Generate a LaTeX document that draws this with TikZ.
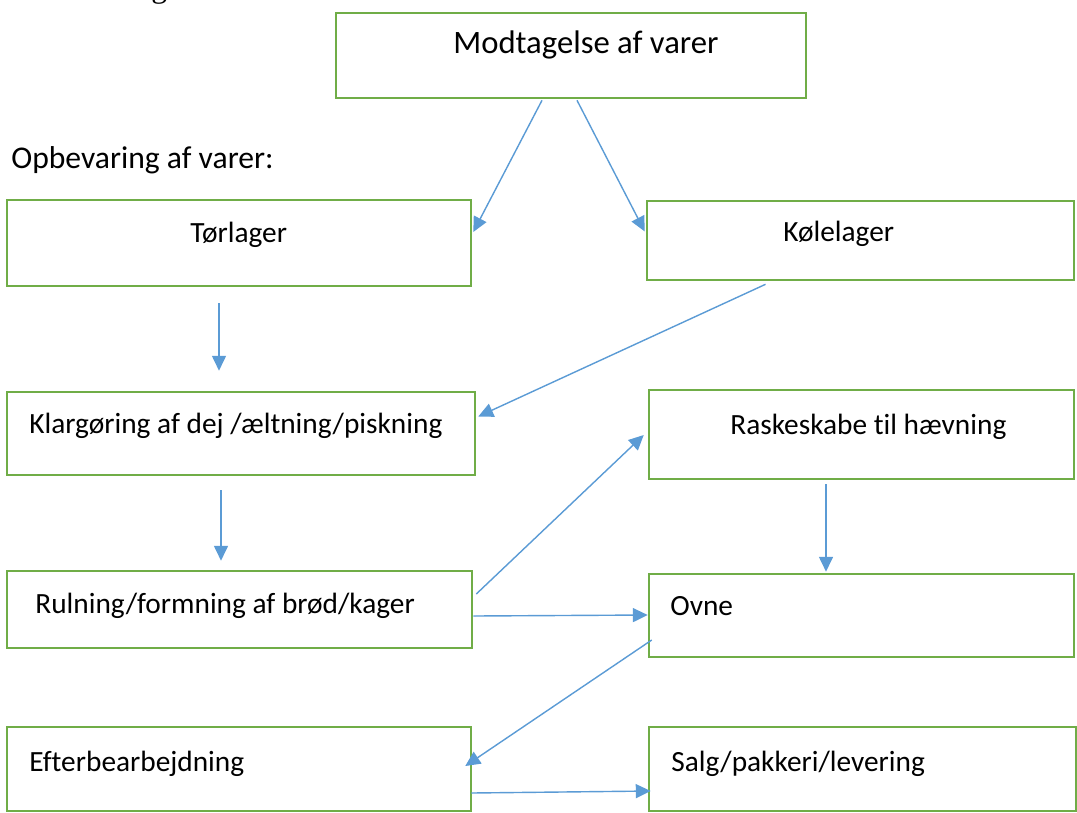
\documentclass[tikz,border=0pt]{standalone}
\usepackage{fontspec}
\setmainfont{Carlito}[Ligatures=NoCommon]
\newfontfamily\bodyserif{Liberation Serif}
\usetikzlibrary{arrows.meta,calc}

\definecolor{boxgreen}{HTML}{70AD47}
\definecolor{arrowblue}{HTML}{5B9BD5}

\begin{document}
\begin{tikzpicture}[x=0.02cm,y=-0.02cm,>={Triangle[length=8.5pt,width=8pt]},
    box/.style={draw=boxgreen,line width=1.5pt,rectangle,inner sep=0pt},
    lbl/.style={anchor=base west,inner sep=0pt,font=\fontsize{16.7}{20}\selectfont},
    flow/.style={->,draw=arrowblue,fill=arrowblue,line width=0.8pt}]
  \useasboundingbox (0,0) rectangle (1077,812);
  \clip (0,0) rectangle (1077,812);

  % cut-off line of the page above
  \node[anchor=base west,inner sep=0pt,font=\bodyserif\fontsize{18}{22}\selectfont] (page) at (151,-3) {g};

  % boxes
  \node[box,minimum width=9.40cm,minimum height=1.70cm] (modt) at (571,55.5) {};
  \node[box,minimum width=9.28cm,minimum height=1.72cm] (torl) at (239,243) {};
  \node[box,minimum width=8.54cm,minimum height=1.58cm] (kole) at (860.5,240.5) {};
  \node[box,minimum width=9.36cm,minimum height=1.66cm] (klar) at (241,433.5) {};
  \node[box,minimum width=8.50cm,minimum height=1.78cm] (rask) at (861.5,434.5) {};
  \node[box,minimum width=9.30cm,minimum height=1.54cm] (rul) at (239.5,609.5) {};
  \node[box,minimum width=8.50cm,minimum height=1.66cm] (ovne) at (861.5,615.5) {};
  \node[box,minimum width=9.28cm,minimum height=1.68cm] (efter) at (239,769) {};
  \node[box,minimum width=8.54cm,minimum height=1.68cm] (salg) at (862.5,769) {};

  % texts
  \node[lbl,font=\fontsize{18.6}{22}\selectfont] (modt-t) at (453,53) {Modtagelse af varer};
  \node[lbl,font=\fontsize{18}{22}\selectfont] (opbev) at (11,168) {Opbevaring af varer:};
  \node[lbl] (torl-t) at (190,242) {Tørlager};
  \node[lbl] (kole-t) at (783,241) {Kølelager};
  \node[lbl] (klar-t) at (29,433) {Klargøring af dej /æltning/piskning};
  \node[lbl] (rask-t) at (730,434) {Raskeskabe til hævning};
  \node[lbl] (rul-t) at (35,613) {Rulning/formning af brød/kager};
  \node[lbl] (ovne-t) at (670,615) {Ovne};
  \node[lbl] (efter-t) at (29,771) {Efterbearbejdning};
  \node[lbl] (salg-t) at (671,771) {Salg/pakkeri/levering};

  % arrows
  \draw[flow] ($(modt.south)+(-29,1)$) -- ($(torl.east)+(1,-11)$);
  \draw[flow] ($(modt.south)+(6,1)$) -- ($(kole.west)+(-1,-9)$);
  \draw[flow] ($(torl.south)+(-20,16)$) -- ($(klar.north)+(-22,-20)$);
  \draw[flow] ($(kole.south)+(-95,3)$) -- ($(klar.east)+(2,-17)$);
  \draw[flow] ($(klar.south)+(-20,14)$) -- ($(rul.north)+(-18.5,-9)$);
  \draw[flow] ($(rul.east)+(3,-15.5)$) -- ($(rask.west)+(-4,0.5)$);
  \draw[flow] ($(rul.east)+(0,6.5)$) -- ($(ovne.west)+(0,-0.5)$);
  \draw[flow] ($(rask.south)+(-35.5,4)$) -- ($(ovne.north)+(-35.5,-1)$);
  \draw[flow] ($(ovne.west)+(4,24.5)$) -- ($(efter.east)+(-7,-3)$);
  \draw[flow] ($(efter.east)+(-1,24)$) -- ($(salg.west)+(3,22)$);
\end{tikzpicture}
\end{document}
